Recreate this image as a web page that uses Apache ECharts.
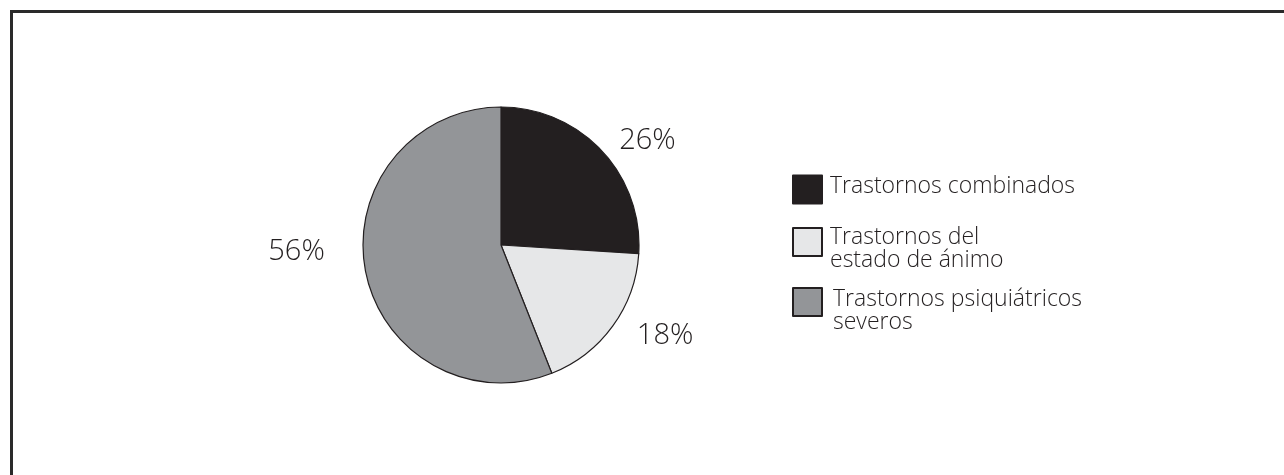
<!DOCTYPE html>
<html>
<head>
<meta charset="utf-8">
<script src="https://cdn.jsdelivr.net/npm/echarts@6/dist/echarts.min.js"></script>
<style>
html,body{margin:0;padding:0;background:#fff;}
#frame{position:absolute;left:10px;top:10px;width:1300px;height:500px;border-top:3px solid #2a2a2a;border-left:3px solid #2a2a2a;box-sizing:border-box;}
#chart{position:absolute;left:0;top:0;width:1284px;height:475px;}
</style>
</head>
<body>
<div id="frame"></div>
<div id="chart"></div>
<script>
const categories = ["Trastornos combinados", "Trastornos del\nestado de ánimo", "Trastornos psiquiátricos\nseveros"];
const values = [26, 18, 56];
const colors = ["#231f20", "#e6e7e8", "#939598"];

const chart = echarts.init(document.getElementById('chart'), null, {renderer: 'canvas'});
const FONT = '"Open Sans", sans-serif';
const legendTops = [174.5, 212.5, 270.5];
// vertical offset of the text block against its swatch: [spacer height, spacer above text?]
const legendSpacer = [[6, false], [13, true], [17, true]];
const legendTextLeft = [3, 3, 6];
const labelNudge = [[-2, 4], [3, -2], [-16, -23]];
const legends = categories.map((c, i) => ({
  data: [c],
  left: 792,
  top: legendTops[i],
  padding: 0,
  orient: 'vertical',
  itemWidth: 29,
  itemHeight: 28,
  itemGap: 0,
  icon: 'rect',
  selectedMode: false,
  formatter: name => legendSpacer[i][1] ? '{s| }\n' + name : name + '\n{s| }',
  textStyle: {
    fontFamily: FONT, fontWeight: 300, fontSize: 23, color: '#231f20', lineHeight: 23,
    padding: [0, 0, 0, legendTextLeft[i]],
    rich: {s: {fontSize: 1, lineHeight: legendSpacer[i][0]}}
  }
}));
chart.setOption({
  animation: false,
  legend: legends,
  series: [{
    type: 'pie',
    center: [501, 245],
    radius: 138,
    startAngle: 90,
    clockwise: true,
    data: categories.map((c, i) => ({name: c, value: values[i], itemStyle: {color: colors[i]}})),
    itemStyle: {borderColor: '#231f20', borderWidth: 1.2},
    label: {
      show: true,
      position: 'outside',
      formatter: p => p.value + '%',
      fontFamily: FONT,
      fontWeight: 300,
      fontSize: 29,
      color: '#231f20'
    },
    labelLine: {show: false, length: 20, length2: 0},
    labelLayout: p => ({dx: labelNudge[p.dataIndex][0], dy: labelNudge[p.dataIndex][1]}),
    emphasis: {disabled: true}
  }]
});
</script>
</body>
</html>
